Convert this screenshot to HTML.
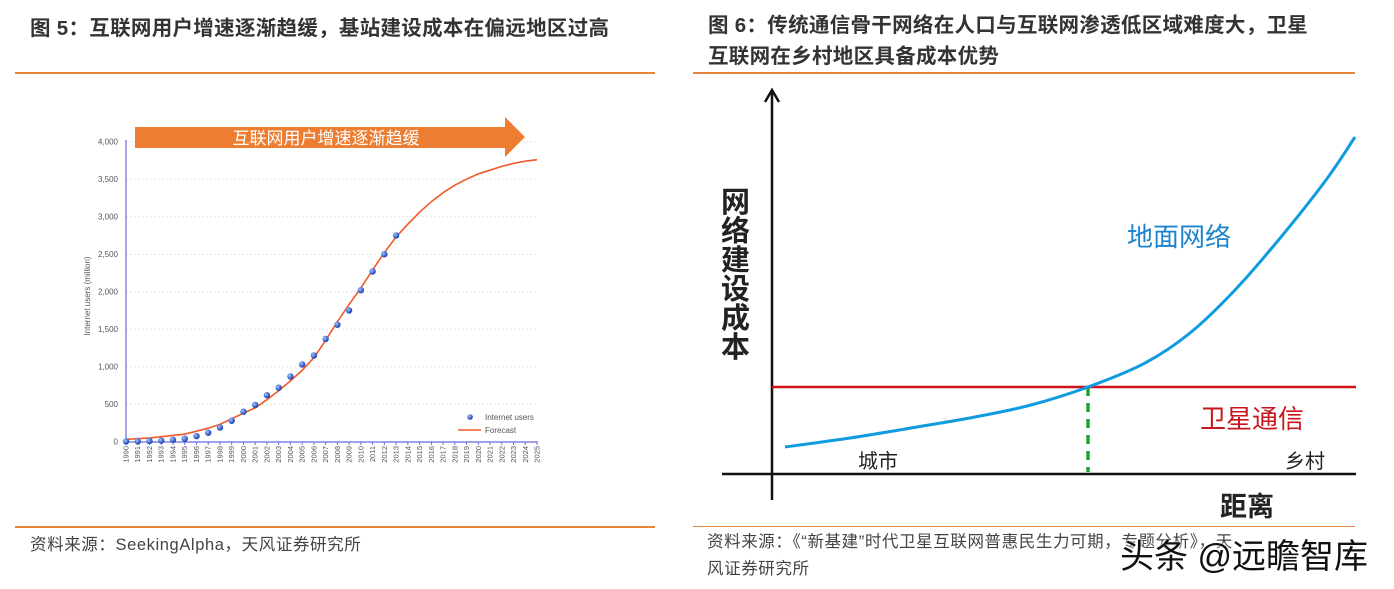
<!DOCTYPE html>
<html><head><meta charset="utf-8">
<style>
body{margin:0;width:1394px;height:589px;background:#fff;overflow:hidden;font-family:"Liberation Sans","Noto Sans CJK SC",sans-serif;}
.t{position:absolute;font-weight:bold;font-size:20.5px;color:#333;white-space:nowrap;letter-spacing:0.3px}
.ln{position:absolute;height:2px;background:#e8853d}
.src{position:absolute;font-size:16.5px;color:#444;white-space:nowrap;letter-spacing:0.6px}
</style></head><body>
<div class="t" style="left:30px;top:11px">图 5：互联网用户增速逐渐趋缓，基站建设成本在偏远地区过高</div>
<div class="ln" style="left:15px;top:72px;width:640px"></div>
<div class="t" style="left:708px;top:10px;line-height:31px">图 6：传统通信骨干网络在人口与互联网渗透低区域难度大，卫星<br>互联网在乡村地区具备成本优势</div>
<div class="ln" style="left:693px;top:72px;width:662px"></div>
<div class="ln" style="left:15px;top:526px;width:640px"></div>
<div class="ln" style="left:693px;top:526px;width:662px;height:1px"></div>
<div class="src" style="left:30px;top:531px">资料来源：SeekingAlpha，天风证券研究所</div>
<div class="src" style="left:707px;top:529px;line-height:27px">资料来源：《“新基建”时代卫星互联网普惠民生力可期，专题分析》，天<br>风证券研究所</div>
<div style="position:absolute;left:1120px;top:529px;font-size:34px;color:#111;white-space:nowrap;text-shadow:0 0 3px #fff,0 0 3px #fff">头条 @远瞻智库</div>

<svg id="left" width="1394" height="589" style="position:absolute;left:0;top:0"></svg>

<script>
const years=[];for(let y=1990;y<=2025;y++)years.push(y);
const userYears=[1990,1991,1992,1993,1994,1995,1996,1997,1998,1999,2000,2001,2002,2003,2004,2005,2006,2007,2008,2009,2010,2011,2012,2013];
const userValues=[3,4,10,14,25,40,75,120,190,280,400,490,620,720,870,1030,1150,1370,1560,1750,2020,2270,2500,2750];
const forecastYears=[1990,1992,1995,1997,1998,2000,2001,2002,2003,2004,2005,2006,2007,2008,2009,2010,2011,2012,2013,2014,2015,2016,2017,2018,2019,2020,2021,2022,2023,2024,2025];
const forecastValues=[30,50,100,180,230,380,450,560,680,810,950,1120,1350,1600,1830,2050,2290,2520,2730,2900,3060,3200,3320,3420,3500,3570,3620,3670,3710,3740,3760];
const yTicks=[0,500,1000,1500,2000,2500,3000,3500,4000];
const yTickLabels=["0","500","1,000","1,500","2,000","2,500","3,000","3,500","4,000"];

const NS="http://www.w3.org/2000/svg";
const svg=document.getElementById('left');
function xS(y){return 126+(y-1990)*(537-126)/35;}
function yS(v){return 441.7-v*0.075;}
function mk(t,a,p){const e=document.createElementNS(NS,t);for(const k in a)e.setAttribute(k,a[k]);(p||svg).appendChild(e);return e;}
yTicks.forEach((v,i)=>{
  if(v>0){const g=mk('line',{x1:126,x2:537,y1:yS(v),y2:yS(v),stroke:'#e4e4e4','stroke-dasharray':'2,2'});
  
  }
  const t=mk('text',{x:118,y:yS(v)+3,'text-anchor':'end','font-size':8,fill:'#555'});t.textContent=yTickLabels[i];
  
  
});
const yax=mk('line',{x1:126,x2:126,y1:140,y2:442,stroke:'#6b6be0','stroke-width':1.2});


const xax=mk('line',{x1:126,x2:538,y1:442,y2:442,stroke:'#6b6be0','stroke-width':1.2});


years.forEach(y=>{
  mk('line',{x1:xS(y),x2:xS(y),y1:442,y2:445,stroke:'#6b6be0'});
  const t=mk('text',{x:0,y:0,'font-size':7.5,fill:'#555','text-anchor':'end',transform:`translate(${xS(y)+2.5},446) rotate(-90)`});
  t.textContent=y;
  
  
});
const yt=mk('text',{x:0,y:0,'font-size':8,fill:'#555','text-anchor':'middle',transform:'translate(90,296) rotate(-90)'});
yt.textContent='Internet users (million)';


let d='';forecastYears.forEach((y,i)=>{d+=(i?'L':'M')+xS(y).toFixed(1)+','+yS(forecastValues[i]).toFixed(1);});
const fc=mk('path',{d:d,fill:'none',stroke:'#f05a28','stroke-width':1.6});


const defs=mk('defs',{});
const rg=mk('radialGradient',{id:'ball',cx:'35%',cy:'35%',r:'65%'},defs);
mk('stop',{offset:'0%','stop-color':'#9fc4ff'},rg);mk('stop',{offset:'100%','stop-color':'#1a3fb0'},rg);
userYears.forEach((y,i)=>{
  const c=mk('circle',{cx:xS(y),cy:yS(userValues[i]),r:3.2,fill:'url(#ball)'});
  
  
});
const lg=mk('g',{});


mk('circle',{cx:470,cy:417,r:2.8,fill:'url(#ball)'},lg);
const l1=mk('text',{x:485,y:420,'font-size':8,fill:'#555'},lg);l1.textContent='Internet users';
mk('line',{x1:458,x2:481,y1:430,y2:430,stroke:'#f05a28','stroke-width':1.6},lg);
const l2=mk('text',{x:485,y:433,'font-size':8,fill:'#555'},lg);l2.textContent='Forecast';
const ar=mk('polygon',{points:'135,127 505,127 505,117 525,137 505,157 505,148 135,148',fill:'#ed7d31'});


const at=mk('text',{x:326,y:144,'text-anchor':'middle','font-size':17,fill:'#fff'});at.textContent='互联网用户增速逐渐趋缓';


</script>

<svg id="right" width="1394" height="589" style="position:absolute;left:0;top:0"></svg>
<script>
const groundX=[785,850,917,975,1031,1088,1145,1190,1235,1281,1326,1355];
const groundY=[447,438,427,417,405,387,363,333,290,237,180,137];
const satelliteY=387;
(function(){
const NS="http://www.w3.org/2000/svg";const s=document.getElementById('right');
function mk(t,a){const e=document.createElementNS(NS,t);for(const k in a)e.setAttribute(k,a[k]);s.appendChild(e);return e;}
const ya=mk('line',{x1:772,x2:772,y1:92,y2:500,stroke:'#111','stroke-width':2.5});


mk('polyline',{points:'765,102 772,90 779,102',fill:'none',stroke:'#111','stroke-width':2.5});
const xa=mk('line',{x1:722,x2:1356,y1:474,y2:474,stroke:'#111','stroke-width':2.5});


const rl=mk('line',{x1:772,x2:1356,y1:satelliteY,y2:satelliteY,stroke:'#d0121b','stroke-width':2.5});


const gl=mk('line',{x1:1088,x2:1088,y1:satelliteY,y2:472,stroke:'#1aa532','stroke-width':3.5,'stroke-dasharray':'9,7'});


// Catmull-Rom smoothing
let d='M'+groundX[0]+','+groundY[0];
for(let i=0;i<groundX.length-1;i++){
  const p0=i?i-1:i,p2=i+1,p3=Math.min(i+2,groundX.length-1);
  const c1x=groundX[i]+(groundX[p2]-groundX[p0])/6,c1y=groundY[i]+(groundY[p2]-groundY[p0])/6;
  const c2x=groundX[p2]-(groundX[p3]-groundX[i])/6,c2y=groundY[p2]-(groundY[p3]-groundY[i])/6;
  d+=`C${c1x},${c1y} ${c2x},${c2y} ${groundX[p2]},${groundY[p2]}`;
}
const bc=mk('path',{d:d,fill:'none',stroke:'#0f9be0','stroke-width':3,'stroke-linejoin':'round'});


function txt(x,y,str,size,fill,name,extra){const t=mk('text',Object.assign({x:x,y:y,'font-size':size,fill:fill,'font-family':'"Liberation Sans","Noto Sans CJK SC",sans-serif'},extra||{}));t.textContent=str;

return t;}
const yl=['网','络','建','设','成','本'];
yl.forEach((c,i)=>txt(721,212+i*29,c,29,'#222','y-axis-title-char',{'font-weight':'bold'}));
txt(1127,246,'地面网络',26,'#1b84cc','ground-network-label');
txt(1200,428,'卫星通信',26,'#c8161d','satellite-label');
txt(858,468,'城市',20,'#222','city-label');
txt(1285,468,'乡村',20,'#222','rural-label');
txt(1220,516,'距离',27,'#222','x-axis-title',{'font-weight':'bold'});
})();
</script>
</body></html>
